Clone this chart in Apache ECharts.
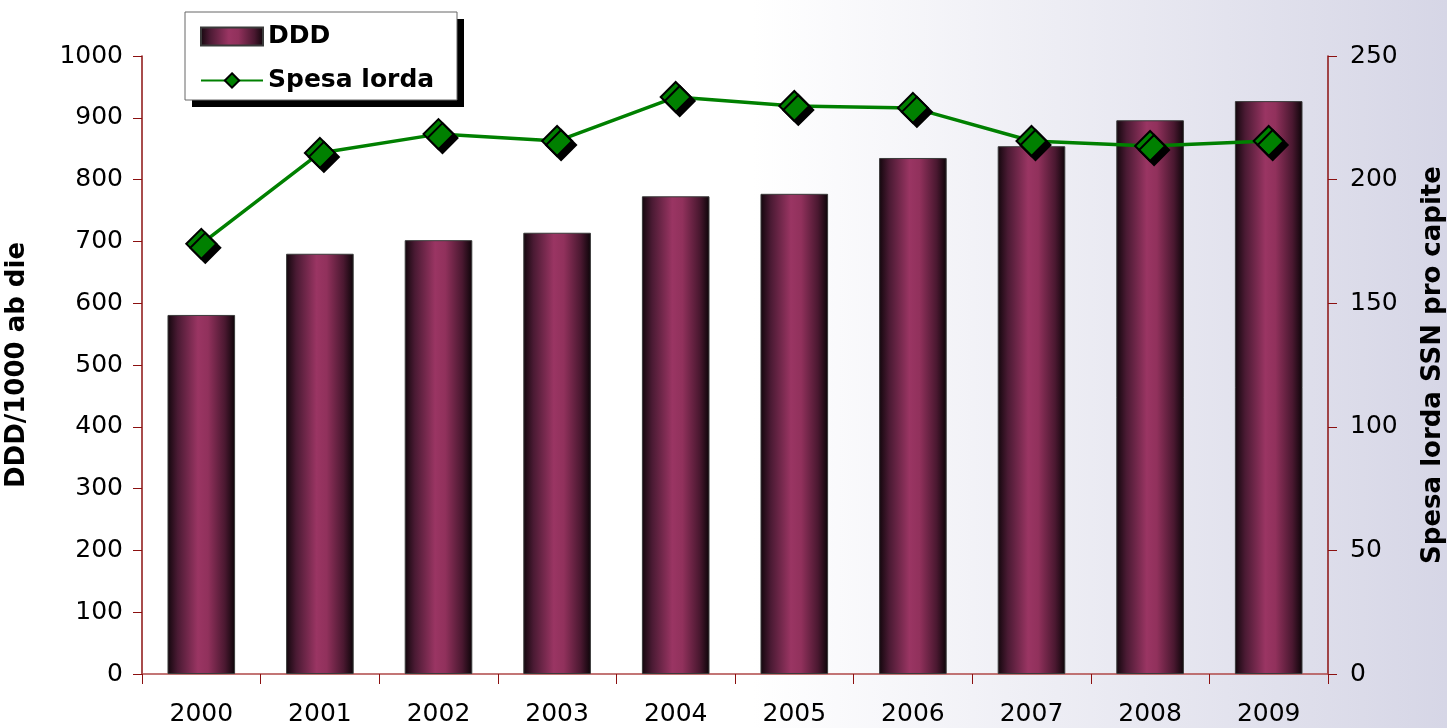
<!DOCTYPE html>
<html><head><meta charset="utf-8">
<script src="https://cdn.jsdelivr.net/npm/echarts@6/dist/echarts.min.js"></script>
<style>html,body{margin:0;padding:0;background:#fff;overflow:hidden}#c{width:1447px;height:728px}</style>
</head><body><div id="c"></div>
<script>
const categories = ['2000','2001','2002','2003','2004','2005','2006','2007','2008','2009'];
const ddd = [581, 680, 702, 714, 773, 777, 835, 854, 896, 927];
const spesa = [174, 210.8, 218.4, 215.6, 233.4, 229.8, 229, 215.6, 213.6, 215.6];
const leftTicks = [0, 1000, 100];
const rightTicks = [0, 250, 50];

const chart = echarts.init(document.getElementById('c'));
const axisCol = '#8b1010';
const font = 'DejaVu Sans';
const barGrad = new echarts.graphic.LinearGradient(0, 0, 1, 0, [
  {offset: 0, color: '#12060c'}, {offset: 0.15, color: '#4a1a33'},
  {offset: 0.45, color: '#9a3563'}, {offset: 0.6, color: '#91315c'},
  {offset: 0.85, color: '#4a1830'}, {offset: 1, color: '#0c0408'}]);
chart.setOption({
  animation: false,
  graphic: [{
    type: 'rect', z: -100, silent: true,
    shape: {x: 0, y: 0, width: 1447, height: 728},
    style: {fill: new echarts.graphic.LinearGradient(0, 0, 1, 0, [
      {offset: 0, color: '#ffffff'}, {offset: 0.52, color: '#ffffff'}, {offset: 1, color: '#d6d6e6'}])}
  }, {
    type: 'rect', z: 1, silent: true,
    shape: {x: 192, y: 19, width: 272, height: 88},
    style: {fill: '#000'}
  }, {
    type: 'rect', z: 2, silent: true,
    shape: {x: 185, y: 12, width: 272, height: 88},
    style: {fill: '#fff', stroke: '#666', lineWidth: 1}
  }],
  legend: {
    orient: 'vertical', left: 186, top: 24, z: 10,
    padding: [0, 0, 0, 14], itemGap: 19,
    itemWidth: 62, itemHeight: 18,
    textStyle: {fontFamily: font, fontWeight: 'bold', fontSize: 25, color: '#000'},
    data: [{name: 'DDD', icon: 'rect'}, {name: 'Spesa lorda'}]
  },
  grid: {left: 142, right: 119, top: 56, bottom: 54, outerBoundsMode: 'none', containLabel: false},
  xAxis: {
    type: 'category', data: categories,
    axisLine: {lineStyle: {color: '#b04848', width: 1.5}},
    axisTick: {show: true, length: 10, lineStyle: {color: axisCol}},
    axisLabel: {fontFamily: font, fontSize: 25, color: '#000', margin: 28}
  },
  yAxis: [{
    type: 'value', min: leftTicks[0], max: leftTicks[1], interval: leftTicks[2],
    name: 'DDD/1000 ab die', nameLocation: 'middle', nameGap: 112,
    nameTextStyle: {fontFamily: font, fontWeight: 'bold', fontSize: 26, color: '#000'},
    axisLine: {show: true, lineStyle: {color: axisCol, width: 1.5}},
    axisTick: {show: true, length: 9, lineStyle: {color: axisCol}},
    axisLabel: {fontFamily: font, fontSize: 25, color: '#000', margin: 19, formatter: v => String(v)},
    splitLine: {show: false}
  }, {
    type: 'value', min: rightTicks[0], max: rightTicks[1], interval: rightTicks[2],
    name: 'Spesa lorda SSN pro capite', nameLocation: 'middle', nameGap: 92, nameRotate: 90,
    nameTextStyle: {fontFamily: font, fontWeight: 'bold', fontSize: 26, color: '#000'},
    axisLine: {show: true, lineStyle: {color: axisCol, width: 1.5}},
    axisTick: {show: true, length: 9, lineStyle: {color: axisCol}},
    axisLabel: {fontFamily: font, fontSize: 25, color: '#000', margin: 22, formatter: v => String(v)},
    splitLine: {show: false}
  }],
  series: [{
    name: 'DDD', type: 'bar', data: ddd, barWidth: '57%', yAxisIndex: 0,
    itemStyle: {color: barGrad, borderColor: '#3a3a3a', borderWidth: 1}
  }, {
    name: 'Spesa lorda', type: 'line', data: spesa, yAxisIndex: 1,
    symbol: 'diamond', symbolSize: 30,
    lineStyle: {color: '#008000', width: 3.5},
    itemStyle: {color: '#008000', borderColor: '#000', borderWidth: 2,
      shadowColor: '#000', shadowBlur: 0, shadowOffsetX: 4, shadowOffsetY: 4}
  }]
});
</script></body></html>
